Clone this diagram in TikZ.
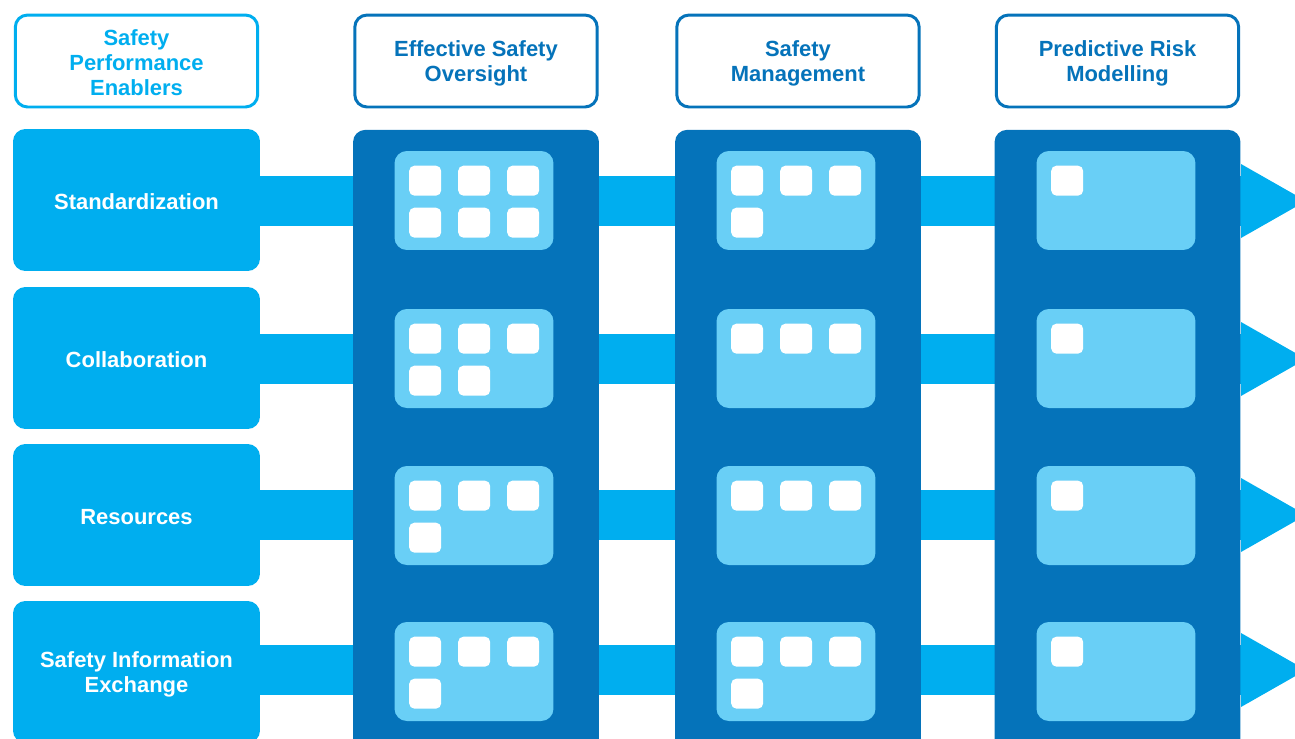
\documentclass[tikz,border=0pt]{standalone}
\usepackage{fontspec}
\setmainfont{Liberation Sans}
\usepackage{tikz}
\usetikzlibrary{positioning}

\definecolor{skyblue}{HTML}{00AEEF}
\definecolor{deepblue}{HTML}{0573BA}
\definecolor{paleblue}{HTML}{69CFF6}

\tikzset{
  label font/.style={font=\fontsize{12.5}{14.2}\selectfont\bfseries},
  header/.style={draw, line width=1.7pt, rounded corners=7pt, fill=white,
    minimum width=4.85cm, minimum height=1.84cm, align=center, label font,
    text depth=0pt},
  enabler/.style={fill=skyblue, rounded corners=7pt, text=white,
    minimum width=4.94cm, minimum height=2.84cm, align=center, label font,
    text height=11.3pt},
  column/.style={fill=deepblue, rounded corners=7pt, minimum width=4.92cm,
    minimum height=12.9cm, inner sep=0pt},
  panel/.style={fill=paleblue, rounded corners=7pt, minimum width=3.18cm,
    minimum height=1.98cm, inner sep=0pt},
  tile/.style={fill=white, rounded corners=3pt},
  bar/.style={fill=skyblue}
}

\begin{document}
\begin{tikzpicture}[x=0.02cm,y=-0.02cm]
\useasboundingbox (0,0) rectangle (1295,738);
\clip (0,0) rectangle (1295,738);
%draw horizontal bars and arrow heads
\foreach \y in {201,359,515,670}{
   \fill[bar] (250,\y-25) rectangle (1245,\y+25);
   \fill[bar] (1241,\y-37) -- (1306,\y) -- (1241,\y+37) -- cycle;
}
%draw headers
\node[header, draw=skyblue, text=skyblue, text height=39.7pt] (enablers) at (136.5,61) {Safety\\Performance\\Enablers};
\node[header, draw=deepblue, text=deepblue] (oversight) at (476,61) {Effective Safety\\Oversight};
\node[header, draw=deepblue, text=deepblue] (management) at (798,61) {Safety\\Management};
\node[header, draw=deepblue, text=deepblue] (modelling) at (1117.5,61) {Predictive Risk\\Modelling};
%draw columns below headers
\node[column, below=0.42cm of oversight.south, anchor=north] (col1) {};
\node[column, below=0.42cm of management.south, anchor=north] (col2) {};
\node[column, below=0.42cm of modelling.south, anchor=north] (col3) {};
%draw enablers
\node[enabler] (standard) at (136.5,200) {Standardization};
\node[enabler] (collab) at (136.5,358) {Collaboration};
\node[enabler] (resource) at (136.5,515) {Resources};
\node[enabler, text height=23.3pt, text depth=0pt] (exchange) at (136.5,672) {Safety Information\\Exchange};
%draw panels
\foreach \c/\x in {1/474,2/796,3/1116}{
   \foreach \r/\y in {1/200.5,2/358.5,3/515.5,4/671.5}{
      \node[panel] (p\c\r) at (\x,\y) {};
   }
}
%draw tiles
\foreach \p/\n in {p11/6,p12/5,p13/4,p14/4,p21/4,p22/3,p23/3,p24/4,p31/1,p32/1,p33/1,p34/1}{
   \foreach \k in {1,...,\n}{
      \pgfmathtruncatemacro\i{mod(\k-1,3)}
      \pgfmathtruncatemacro\j{(\k-1)/3}
      \fill[tile] (\p.north west) ++(15+49*\i,15+42*\j) rectangle ++(32,30);
   }
}
\end{tikzpicture}
\end{document}
